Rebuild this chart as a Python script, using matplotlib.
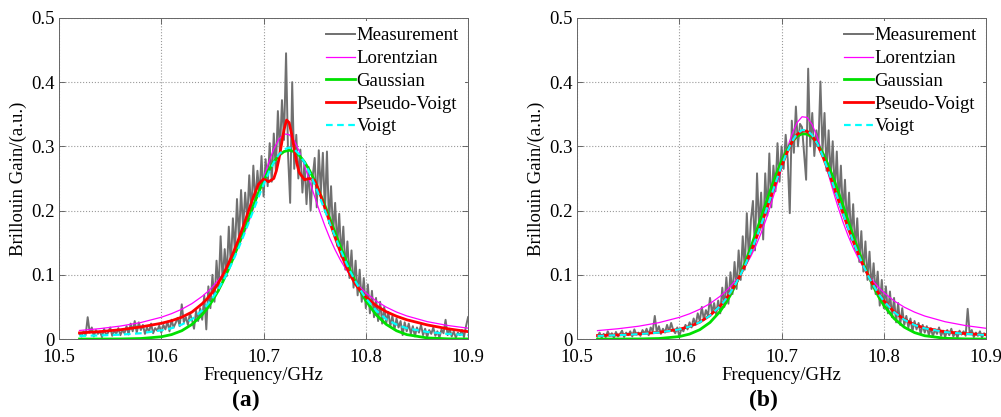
import numpy as np
import matplotlib.pyplot as plt

plt.rcParams['font.family'] = ['Liberation Serif', 'DejaVu Serif']
plt.rcParams['font.size'] = 13.5

# measured Brillouin gain spectra, 2 MHz steps from 10.52 to 10.90 GHz
meas_freq = np.round(np.arange(191) * 0.002 + 10.52, 3)

meas_a = [
    0.008, 0.004, 0.012, 0.006, 0.034, 0.010, 0.018, 0.004, 0.014, 0.008,
    0.012, 0.003, 0.016, 0.006, 0.010, 0.018, 0.005, 0.013, 0.008, 0.017,
    0.006, 0.014, 0.009, 0.020, 0.007, 0.024, 0.012, 0.028, 0.010, 0.026,
    0.014, 0.022, 0.008, 0.018, 0.011, 0.024, 0.009, 0.017, 0.013, 0.021,
    0.010, 0.022, 0.015, 0.027, 0.012, 0.030, 0.018, 0.025, 0.033, 0.020,
    0.054, 0.026, 0.034, 0.022, 0.040, 0.030, 0.016, 0.044, 0.028, 0.048,
    0.030, 0.068, 0.015, 0.082, 0.048, 0.100, 0.058, 0.122, 0.075, 0.160,
    0.090, 0.140, 0.098, 0.175, 0.115, 0.188, 0.135, 0.218, 0.155, 0.232,
    0.172, 0.228, 0.185, 0.255, 0.195, 0.270, 0.212, 0.262, 0.225, 0.285,
    0.222, 0.280, 0.238, 0.305, 0.245, 0.320, 0.262, 0.355, 0.290, 0.372,
    0.310, 0.445, 0.285, 0.212, 0.400, 0.265, 0.318, 0.250, 0.295, 0.228,
    0.275, 0.210, 0.268, 0.200, 0.252, 0.282, 0.205, 0.294, 0.228, 0.290,
    0.198, 0.292, 0.180, 0.238, 0.165, 0.212, 0.145, 0.195, 0.128, 0.175,
    0.108, 0.152, 0.095, 0.138, 0.080, 0.122, 0.068, 0.108, 0.058, 0.095,
    0.048, 0.085, 0.040, 0.075, 0.034, 0.064, 0.028, 0.058, 0.024, 0.050,
    0.025, 0.042, 0.020, 0.036, 0.015, 0.032, 0.018, 0.028, 0.006, 0.026,
    0.012, 0.024, 0.008, 0.020, 0.004, 0.018, 0.010, 0.022, 0.006, 0.016,
    0.003, 0.014, 0.008, 0.018, 0.005, 0.012, 0.002, 0.015, 0.009, 0.030,
    0.006, 0.016, 0.004, 0.012, 0.002, 0.010, 0.006, 0.014, 0.003, 0.020,
    0.034,
]

meas_b = [
    0.004, 0.010, 0.002, 0.008, 0.003, 0.012, 0.005, 0.009, 0.002, 0.011,
    0.004, 0.008, 0.013, 0.003, 0.010, 0.006, 0.012, 0.004, 0.015, 0.007,
    0.010, 0.005, 0.014, 0.008, 0.016, 0.006, 0.018, 0.012, 0.036, 0.010,
    0.020, 0.008, 0.016, 0.010, 0.022, 0.012, 0.025, 0.014, 0.009, 0.018,
    0.004, 0.016, 0.012, 0.022, 0.015, 0.026, 0.018, 0.032, 0.022, 0.040,
    0.028, 0.050, 0.030, 0.045, 0.036, 0.064, 0.040, 0.056, 0.038, 0.060,
    0.040, 0.080, 0.050, 0.096, 0.055, 0.104, 0.070, 0.120, 0.078, 0.138,
    0.092, 0.160, 0.108, 0.196, 0.125, 0.185, 0.215, 0.138, 0.258, 0.172,
    0.228, 0.155, 0.258, 0.192, 0.289, 0.205, 0.270, 0.230, 0.305, 0.245,
    0.300, 0.265, 0.318, 0.280, 0.196, 0.340, 0.290, 0.362, 0.300, 0.335,
    0.330, 0.290, 0.248, 0.421, 0.300, 0.352, 0.285, 0.325, 0.300, 0.401,
    0.292, 0.352, 0.262, 0.325, 0.250, 0.308, 0.228, 0.292, 0.210, 0.270,
    0.195, 0.248, 0.175, 0.228, 0.155, 0.210, 0.140, 0.188, 0.120, 0.168,
    0.105, 0.152, 0.092, 0.136, 0.078, 0.118, 0.070, 0.105, 0.052, 0.092,
    0.048, 0.082, 0.040, 0.074, 0.034, 0.064, 0.026, 0.056, 0.022, 0.048,
    0.022, 0.036, 0.018, 0.032, 0.012, 0.028, 0.015, 0.025, 0.008, 0.022,
    0.010, 0.020, 0.006, 0.017, 0.004, 0.015, 0.008, 0.018, 0.005, 0.013,
    0.003, 0.014, 0.006, 0.016, 0.004, 0.011, 0.002, 0.013, 0.007, 0.012,
    0.005, 0.047, 0.008, 0.014, 0.003, 0.010, 0.005, 0.012, 0.002, 0.009,
    0.006,
]

# fitted profiles, tabulated on a grid that is finer around the peak
fit_freq = [10.52, 10.54, 10.56, 10.58, 10.60, 10.61, 10.62, 10.63,
            10.64, 10.645, 10.65, 10.655, 10.66, 10.665, 10.67, 10.675,
            10.68, 10.685, 10.69, 10.695, 10.70, 10.705, 10.71, 10.715,
            10.72, 10.725, 10.73, 10.735, 10.74, 10.745, 10.75, 10.755,
            10.76, 10.765, 10.77, 10.775, 10.78, 10.785, 10.79, 10.795,
            10.80, 10.81, 10.82, 10.83, 10.84, 10.86, 10.88, 10.90]

lor_a = [0.0133, 0.0162, 0.0202, 0.0257, 0.0339, 0.0395, 0.0464, 0.0552,
         0.0665, 0.0734, 0.0812, 0.0903, 0.1007, 0.1126, 0.1263, 0.1421,
         0.1600, 0.1802, 0.2025, 0.2265, 0.2511, 0.2749, 0.2959, 0.3113,
         0.3193, 0.3184, 0.3088, 0.2920, 0.2703, 0.2462, 0.2215, 0.1979,
         0.1760, 0.1562, 0.1388, 0.1234, 0.1101, 0.0985, 0.0884, 0.0796,
         0.0719, 0.0594, 0.0497, 0.0420, 0.0360, 0.0271, 0.0211, 0.0169]
gau_a = [0.0000, 0.0000, 0.0001, 0.0008, 0.0035, 0.0069, 0.0129, 0.0228,
         0.0379, 0.0479, 0.0597, 0.0733, 0.0888, 0.1060, 0.1247, 0.1447,
         0.1656, 0.1868, 0.2078, 0.2278, 0.2463, 0.2625, 0.2758, 0.2858,
         0.2919, 0.2940, 0.2919, 0.2858, 0.2758, 0.2625, 0.2463, 0.2278,
         0.2078, 0.1868, 0.1656, 0.1447, 0.1247, 0.1060, 0.0888, 0.0733,
         0.0597, 0.0379, 0.0228, 0.0129, 0.0069, 0.0017, 0.0003, 0.0001]
voigt_a = [0.0048, 0.0056, 0.0068, 0.0090, 0.0135, 0.0168, 0.0225, 0.0308,
           0.0445, 0.0533, 0.0637, 0.0756, 0.0893, 0.1046, 0.1214, 0.1397,
           0.1591, 0.1794, 0.2002, 0.2208, 0.2407, 0.2591, 0.2750, 0.2874,
           0.2953, 0.2980, 0.2953, 0.2874, 0.2750, 0.2591, 0.2407, 0.2208,
           0.2002, 0.1794, 0.1591, 0.1397, 0.1214, 0.1046, 0.0893, 0.0756,
           0.0637, 0.0445, 0.0308, 0.0225, 0.0168, 0.0110, 0.0080, 0.0062]

pv_a_freq = [10.52, 10.54, 10.56, 10.58, 10.60, 10.61, 10.62, 10.63,
             10.64, 10.645, 10.65, 10.655, 10.66, 10.665, 10.67, 10.675,
             10.68, 10.685, 10.69, 10.695, 10.70, 10.705, 10.71, 10.7125,
             10.715, 10.7175, 10.72, 10.7225, 10.725, 10.7275, 10.73,
             10.7325, 10.735, 10.74, 10.745, 10.75, 10.755, 10.76, 10.765,
             10.77, 10.775, 10.78, 10.785, 10.79, 10.795, 10.80, 10.81,
             10.82, 10.83, 10.84, 10.86, 10.88, 10.90]
pv_a = [0.0095, 0.0115, 0.0145, 0.0188, 0.0245, 0.0285, 0.0340, 0.0420,
        0.0550, 0.0630, 0.0730, 0.0850, 0.0990, 0.1150, 0.1330, 0.1530,
        0.1750, 0.1980, 0.2210, 0.2410, 0.2490, 0.2450, 0.2500, 0.2620,
        0.2800, 0.3030, 0.3260, 0.3410, 0.3370, 0.3190, 0.2960,
        0.2740, 0.2590, 0.2480, 0.2500, 0.2470, 0.2270, 0.2040, 0.1810,
        0.1580, 0.1360, 0.1160, 0.0990, 0.0850, 0.0745, 0.0655, 0.0520,
        0.0425, 0.0355, 0.0300, 0.0220, 0.0160, 0.0115]

lor_b = [0.0131, 0.0160, 0.0199, 0.0255, 0.0337, 0.0393, 0.0463, 0.0552,
         0.0667, 0.0737, 0.0818, 0.0912, 0.1020, 0.1145, 0.1290, 0.1457,
         0.1650, 0.1870, 0.2116, 0.2384, 0.2664, 0.2939, 0.3183, 0.3367,
         0.3461, 0.3451, 0.3337, 0.3139, 0.2886, 0.2608, 0.2329, 0.2065,
         0.1824, 0.1610, 0.1422, 0.1259, 0.1118, 0.0997, 0.0892, 0.0801,
         0.0723, 0.0594, 0.0496, 0.0419, 0.0358, 0.0269, 0.0209, 0.0167]
gau_b = [0.0000, 0.0000, 0.0001, 0.0008, 0.0038, 0.0077, 0.0145, 0.0258,
         0.0433, 0.0549, 0.0685, 0.0842, 0.1020, 0.1217, 0.1432, 0.1659,
         0.1894, 0.2130, 0.2360, 0.2576, 0.2771, 0.2936, 0.3066, 0.3154,
         0.3196, 0.3191, 0.3140, 0.3043, 0.2906, 0.2734, 0.2534, 0.2315,
         0.2083, 0.1846, 0.1612, 0.1388, 0.1177, 0.0983, 0.0809, 0.0656,
         0.0524, 0.0320, 0.0184, 0.0100, 0.0051, 0.0011, 0.0002, 0.0000]
pv_b = [0.0055, 0.0064, 0.0080, 0.0104, 0.0152, 0.0195, 0.0262, 0.0366,
        0.0516, 0.0612, 0.0726, 0.0856, 0.1006, 0.1172, 0.1358, 0.1560,
        0.1776, 0.2002, 0.2236, 0.2468, 0.2690, 0.2893, 0.3062, 0.3183,
        0.3242, 0.3236, 0.3163, 0.3032, 0.2855, 0.2647, 0.2422, 0.2190,
        0.1958, 0.1734, 0.1522, 0.1325, 0.1143, 0.0979, 0.0834, 0.0707,
        0.0597, 0.0424, 0.0304, 0.0223, 0.0171, 0.0112, 0.0084, 0.0067]
voigt_b = [0.0049, 0.0060, 0.0076, 0.0101, 0.0150, 0.0194, 0.0261, 0.0365,
           0.0515, 0.0612, 0.0726, 0.0857, 0.1007, 0.1174, 0.1360, 0.1562,
           0.1778, 0.2004, 0.2238, 0.2471, 0.2695, 0.2899, 0.3070, 0.3193,
           0.3254, 0.3247, 0.3173, 0.3040, 0.2861, 0.2651, 0.2424, 0.2191,
           0.1958, 0.1733, 0.1520, 0.1322, 0.1140, 0.0975, 0.0830, 0.0702,
           0.0592, 0.0419, 0.0299, 0.0218, 0.0166, 0.0108, 0.0080, 0.0063]

panels = [
    (meas_a, lor_a, gau_a, (pv_a_freq, pv_a), voigt_a, '(a)'),
    (meas_b, lor_b, gau_b, (fit_freq, pv_b), voigt_b, '(b)'),
]

fig = plt.figure(figsize=(10.01, 4.17), dpi=100)
axes_left = [0.059, 0.5765]
caption_x = [0.246, 0.763]

for i, (meas, lor, gau, pv, voigt, tag) in enumerate(panels):
    ax = fig.add_axes([axes_left[i], 0.187, 0.4086, 0.770])
    ax.plot(meas_freq, meas, color='#707070', lw=1.4, label='Measurement')
    ax.plot(fit_freq, lor, color='#ff00ff', lw=0.9, label='Lorentzian')
    ax.plot(fit_freq, gau, color='#00e000', lw=2.0, label='Gaussian')
    ax.plot(pv[0], pv[1], color='#ff0000', lw=2.0, label='Pseudo-Voigt')
    ax.plot(fit_freq, voigt, color='#00ffff', lw=1.6, ls=(0, (3, 2)),
            label='Voigt')

    ax.set_xlim(10.5, 10.9)
    ax.set_ylim(0, 0.5)
    ax.set_xticks([10.5, 10.6, 10.7, 10.8, 10.9])
    ax.set_xticklabels(['10.5', '10.6', '10.7', '10.8', '10.9'])
    ax.set_yticks([0, 0.1, 0.2, 0.3, 0.4, 0.5])
    ax.set_yticklabels(['0', '0.1', '0.2', '0.3', '0.4', '0.5'])
    ax.tick_params(direction='in', top=True, right=True, length=4,
                   width=0.6, color='#555555')
    ax.tick_params(axis='x', pad=7)
    ax.tick_params(axis='y', pad=3)
    ax.grid(True, ls=':', color='#9a9a9a', lw=0.8)
    for sp in ax.spines.values():
        sp.set_color('#666666')
        sp.set_linewidth(0.7)

    ax.set_xlabel('Frequency/GHz', labelpad=1)
    ax.set_ylabel('Brillouin Gain/(a.u.)', labelpad=3)

    leg = ax.legend(loc='upper right', frameon=True, fancybox=False,
                    borderaxespad=0.15, borderpad=0.35, labelspacing=0.3,
                    handlelength=1.5, handletextpad=0.1, fontsize=13.5)
    leg.get_frame().set_facecolor('white')
    leg.get_frame().set_edgecolor('none')
    leg.get_frame().set_alpha(1.0)

    fig.text(caption_x[i], 0.04, tag, ha='center', va='center',
             fontsize=17, fontweight='bold')

fig.savefig('out.png', dpi=100)
